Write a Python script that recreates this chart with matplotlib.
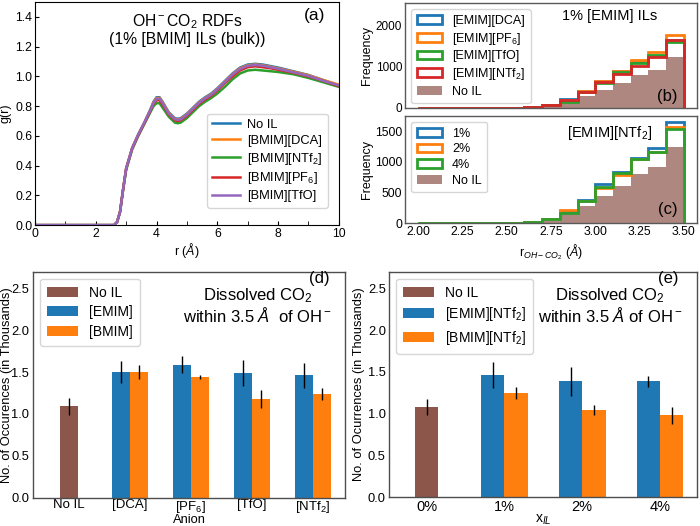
import matplotlib
matplotlib.use("Agg")
import matplotlib.pyplot as plt
from matplotlib.patches import Patch
import numpy as np

plt.rcParams['font.family'] = ['Liberation Sans', 'DejaVu Sans']
plt.rcParams['mathtext.fontset'] = 'custom'
plt.rcParams['mathtext.rm'] = 'Liberation Sans'
plt.rcParams['mathtext.it'] = 'Liberation Sans:italic'
plt.rcParams['mathtext.bf'] = 'Liberation Sans:bold'

C_BLUE = '#1f77b4'
C_ORANGE = '#ff7f0e'
C_GREEN = '#2ca02c'
C_RED = '#d62728'
C_PURPLE = '#9467bd'
C_BROWN = '#8c564b'

# ---- (a) RDF data
r = [0, 2.5, 2.6, 2.7, 2.8, 2.9, 3.0, 3.2, 3.4, 3.6, 3.8, 3.9, 4.0, 4.1, 4.2, 4.4, 4.6, 4.7,
     4.8, 5.0, 5.2, 5.4, 5.6, 5.8, 6.0, 6.25, 6.5, 6.75, 7.0, 7.25, 7.5, 7.75, 8.0, 8.5, 9.0,
     9.5, 10.0]
g_noil = [0, 0, 0, 0.02, 0.09, 0.24, 0.38, 0.52, 0.61, 0.69, 0.78, 0.83, 0.86, 0.86, 0.83, 0.76,
          0.72, 0.715, 0.72, 0.75, 0.79, 0.83, 0.86, 0.885, 0.92, 0.97, 1.02, 1.06, 1.08, 1.085,
          1.08, 1.07, 1.06, 1.035, 1.01, 0.975, 0.94]
g_dca = [0, 0, 0, 0.02, 0.09, 0.24, 0.38, 0.52, 0.61, 0.69, 0.775, 0.825, 0.855, 0.855, 0.825,
         0.755, 0.715, 0.71, 0.715, 0.745, 0.785, 0.825, 0.855, 0.88, 0.915, 0.965, 1.015, 1.055,
         1.075, 1.08, 1.075, 1.065, 1.055, 1.032, 1.008, 0.975, 0.945]
g_ntf2 = [0, 0, 0, 0.02, 0.09, 0.24, 0.37, 0.51, 0.60, 0.68, 0.76, 0.80, 0.82, 0.82, 0.79, 0.73,
          0.69, 0.685, 0.69, 0.72, 0.76, 0.80, 0.83, 0.855, 0.885, 0.93, 0.98, 1.02, 1.04, 1.045,
          1.04, 1.035, 1.03, 1.015, 0.99, 0.96, 0.93]
g_pf6 = [0, 0, 0, 0.02, 0.09, 0.24, 0.38, 0.515, 0.605, 0.685, 0.77, 0.815, 0.84, 0.84, 0.81,
         0.745, 0.705, 0.70, 0.705, 0.735, 0.775, 0.815, 0.845, 0.87, 0.905, 0.955, 1.0, 1.04,
         1.062, 1.068, 1.062, 1.055, 1.045, 1.025, 1.0, 0.97, 0.935]
g_tfo = [0, 0, 0, 0.02, 0.09, 0.24, 0.38, 0.52, 0.61, 0.69, 0.775, 0.82, 0.85, 0.85, 0.82, 0.75,
         0.712, 0.708, 0.712, 0.742, 0.782, 0.822, 0.852, 0.877, 0.912, 0.962, 1.012, 1.05,
         1.072, 1.077, 1.072, 1.062, 1.052, 1.028, 1.004, 0.97, 0.94]

# ---- (b), (c) histograms of r_OH-CO2
bin_edges = [2.0, 2.1, 2.2, 2.3, 2.4, 2.5, 2.6, 2.7, 2.8, 2.9, 3.0, 3.1, 3.2, 3.3, 3.4, 3.5]
h_noil = [0, 0, 0, 0, 2, 5, 15, 54, 151, 282, 445, 607, 797, 922, 1248]
h_emim_dca = [0, 0, 0, 1, 3, 8, 22, 80, 225, 415, 650, 890, 1125, 1270, 1660]
h_emim_pf6 = [0, 0, 0, 1, 3, 8, 25, 85, 205, 425, 670, 905, 1160, 1365, 1770]
h_emim_tfo = [0, 0, 0, 1, 2, 7, 20, 70, 150, 400, 600, 880, 1100, 1280, 1610]
h_emim_ntf2 = [0, 0, 0, 1, 3, 8, 22, 78, 195, 385, 635, 830, 1030, 1240, 1650]
h_1pct = [0, 0, 0, 1, 3, 8, 22, 72, 200, 380, 645, 840, 1069, 1231, 1655]
h_2pct = [0, 0, 0, 1, 3, 8, 22, 72, 210, 370, 575, 790, 1045, 1166, 1573]
h_4pct = [0, 0, 0, 1, 2, 7, 20, 68, 175, 362, 590, 822, 1050, 1160, 1530]

# ---- (d) bar chart by anion (thousands)
anions = ['No IL', '[DCA]', '[PF$_6$]', '[TfO]', '[NTf$_2$]']
d_noil, d_noil_err = 1.09, 0.10
d_emim = [1.50, 1.59, 1.49, 1.46]
d_emim_err = [0.135, 0.10, 0.15, 0.155]
d_bmim = [1.50, 1.44, 1.18, 1.24]
d_bmim_err = [0.085, 0.02, 0.105, 0.075]

# ---- (e) bar chart by concentration (thousands)
conc = ['0%', '1%', '2%', '4%']
e_noil, e_noil_err = 1.08, 0.10
e_emim = [1.46, 1.39, 1.39]
e_emim_err = [0.155, 0.175, 0.065]
e_bmim = [1.25, 1.04, 0.98]
e_bmim_err = [0.075, 0.06, 0.10]

fig = plt.figure(figsize=(7, 5.26), dpi=100)

# ---------------- (a)
ax = fig.add_axes([0.05, 0.572, 0.434, 0.424])
ax.plot(r, g_noil, color=C_BLUE, lw=1.8, label='No IL')
ax.plot(r, g_dca, color=C_ORANGE, lw=1.8, label='[BMIM][DCA]')
ax.plot(r, g_ntf2, color=C_GREEN, lw=1.8, label='[BMIM][NTf$_2$]')
ax.plot(r, g_pf6, color=C_RED, lw=1.8, label='[BMIM][PF$_6$]')
ax.plot(r, g_tfo, color=C_PURPLE, lw=1.8, label='[BMIM][TfO]')
ax.set_xlim(0, 10)
ax.set_ylim(0, 1.5)
ax.set_xticks([0, 2, 4, 6, 8, 10])
ax.set_xticks([1, 3, 5, 7, 9], minor=True)
ax.set_yticks([0, 0.2, 0.4, 0.6, 0.8, 1.0, 1.2, 1.4])
ax.tick_params(which='both', direction='in', length=3, labelsize=8.8, pad=2)
ax.set_xlabel('r ($\\AA$)', fontsize=9)
ax.xaxis.set_label_coords(0.5, -0.07)
ax.set_ylabel('g(r)', fontsize=9)
ax.yaxis.set_label_coords(-0.076, 0.5)
ax.legend(loc='lower right', fontsize=9.3, handlelength=2.1, bbox_to_anchor=(0.985, 0.05),
          borderpad=0.4, labelspacing=0.3, handletextpad=0.6)
ax.text(0.5, 0.875, 'OH$^-$CO$_2$ RDFs\n(1% [BMIM] ILs (bulk))', transform=ax.transAxes,
        ha='center', va='center', fontsize=11.3, linespacing=1.1)
ax.text(0.92, 0.94, '(a)', transform=ax.transAxes, ha='center', va='center', fontsize=12.5)


def hist_handles(colors, labels):
    hs = [Patch(facecolor='none', edgecolor=c, lw=2) for c in colors]
    hs.append(Patch(facecolor=C_BROWN, alpha=0.7, edgecolor='none'))
    return hs, labels + ['No IL']


# ---------------- (b)
axb = fig.add_axes([0.5786, 0.7947, 0.417, 0.1996])
cols_b = [C_BLUE, C_ORANGE, C_GREEN, C_RED]
labs_b = ['[EMIM][DCA]', '[EMIM][PF$_6$]', '[EMIM][TfO]', '[EMIM][NTf$_2$]']
for h, c in zip([h_emim_dca, h_emim_pf6, h_emim_tfo, h_emim_ntf2], cols_b):
    axb.stairs(h, bin_edges, color=c, lw=2)
axb.stairs(h_noil, bin_edges, fill=True, color=C_BROWN, alpha=0.7, lw=0, zorder=0.5)
axb.set_xlim(1.925, 3.575)
axb.set_ylim(0, 2560)
axb.set_yticks([0, 1000, 2000])
axb.set_xticks([2.0, 2.25, 2.5, 2.75, 3.0, 3.25, 3.5])
axb.tick_params(axis='x', labelbottom=False)
axb.tick_params(length=0, labelsize=8.5, pad=2)
axb.set_ylabel('Frequency', fontsize=9)
axb.yaxis.set_label_coords(-0.11, 0.5)
hs, ls = hist_handles(cols_b, labs_b)
axb.legend(hs, ls, loc='upper left', fontsize=9, handlelength=2.0, labelspacing=0.3,
           borderpad=0.45, bbox_to_anchor=(0.0, 1.0))
axb.text(0.70, 0.88, '1% [EMIM] ILs', transform=axb.transAxes, ha='center', va='center',
         fontsize=10.5)
axb.text(0.90, 0.11, '(b)', transform=axb.transAxes, ha='center', va='center', fontsize=12)

# ---------------- (c)
axc = fig.add_axes([0.5786, 0.5755, 0.417, 0.2045])
cols_c = [C_BLUE, C_ORANGE, C_GREEN]
labs_c = ['1%', '2%', '4%']
for h, c in zip([h_1pct, h_2pct, h_4pct], cols_c):
    axc.stairs(h, bin_edges, color=c, lw=2)
axc.stairs(h_noil, bin_edges, fill=True, color=C_BROWN, alpha=0.7, lw=0, zorder=0.5)
axc.set_xlim(1.925, 3.575)
axc.set_ylim(0, 1750)
axc.set_yticks([0, 500, 1000, 1500])
axc.set_xticks([2.0, 2.25, 2.5, 2.75, 3.0, 3.25, 3.5])
axc.set_xticklabels(['2.00', '2.25', '2.50', '2.75', '3.00', '3.25', '3.50'])
axc.tick_params(length=0, labelsize=8.8, pad=2)
axc.set_ylabel('Frequency', fontsize=9)
axc.yaxis.set_label_coords(-0.11, 0.5)
axc.set_xlabel('r$_{OH-CO_2}$ ($\\AA$)', fontsize=9, labelpad=3)
hs, ls = hist_handles(cols_c, labs_c)
axc.legend(hs, ls, loc='upper left', fontsize=9, handlelength=2.0, labelspacing=0.3,
           borderpad=0.45)
axc.text(0.70, 0.84, '[EMIM][NTf$_2$]', transform=axc.transAxes, ha='center', va='center',
         fontsize=10.5)
axc.text(0.90, 0.13, '(c)', transform=axc.transAxes, ha='center', va='center', fontsize=12)

for a in (axb, axc):
    for s in a.spines.values():
        s.set_color('0.35')
        s.set_linewidth(1.0)

# ---------------- (d)
axd = fig.add_axes([0.0476, 0.0538, 0.445, 0.4297])
w = 0.3
xd = np.arange(len(anions))
err_kw = dict(ecolor='black', elinewidth=1, capsize=0)
axd.bar(xd[0], d_noil, w, yerr=d_noil_err, color=C_BROWN, label='No IL', error_kw=err_kw)
axd.bar(xd[1:] - w / 2, d_emim, w, yerr=d_emim_err, color=C_BLUE, label='[EMIM]',
        error_kw=err_kw)
axd.bar(xd[1:] + w / 2, d_bmim, w, yerr=d_bmim_err, color=C_ORANGE, label='[BMIM]',
        error_kw=err_kw)
axd.set_xticks(xd)
axd.set_xticklabels(anions, fontsize=9.5)
axd.set_xlim(-0.58, 4.52)
axd.set_ylim(0, 2.7)
axd.set_yticks([0, 0.5, 1.0, 1.5, 2.0, 2.5])
axd.tick_params(length=0, pad=3)
axd.tick_params(axis='x', pad=1)
axd.tick_params(axis='y', labelsize=9.3)
axd.set_ylabel('No. of Occurences (in Thousands)', fontsize=9.3)
axd.yaxis.set_label_coords(-0.066, 0.5)
axd.set_xlabel('Anion', fontsize=9.3)
axd.xaxis.set_label_coords(0.5, -0.071)
axd.legend(loc='upper left', fontsize=10, handlelength=2.2, borderpad=0.5, labelspacing=0.4)
axd.text(0.72, 0.85, 'Dissolved CO$_2$\nwithin 3.5 $\\AA$  of OH$^-$', transform=axd.transAxes,
         ha='center', va='center', fontsize=12, linespacing=1.05)
axd.text(0.918, 0.97, '(d)', transform=axd.transAxes, ha='center', va='center', fontsize=12)

# ---------------- (e)
axe = fig.add_axes([0.5562, 0.0545, 0.44, 0.429])
xe = np.arange(len(conc))
axe.bar(xe[0], e_noil, w, yerr=e_noil_err, color=C_BROWN, label='No IL', error_kw=err_kw)
axe.bar(xe[1:] - w / 2, e_emim, w, yerr=e_emim_err, color=C_BLUE, label='[EMIM][NTf$_2$]',
        error_kw=err_kw)
axe.bar(xe[1:] + w / 2, e_bmim, w, yerr=e_bmim_err, color=C_ORANGE, label='[BMIM][NTf$_2$]',
        error_kw=err_kw)
axe.set_xticks(xe)
axe.set_xticklabels(conc, fontsize=10.5)
axe.set_xlim(-0.48, 3.48)
axe.set_ylim(0, 2.7)
axe.set_yticks([0, 0.5, 1.0, 1.5, 2.0, 2.5])
axe.tick_params(length=0, pad=2.5)
axe.tick_params(axis='x', pad=2)
axe.tick_params(axis='y', labelsize=9.3)
axe.set_ylabel('No. of Ocurrences (in Thousands)', fontsize=9.3)
axe.yaxis.set_label_coords(-0.08, 0.5)
axe.set_xlabel('x$_{IL}$', fontsize=10)
axe.xaxis.set_label_coords(0.5, -0.066)
axe.legend(loc='upper left', fontsize=10, handlelength=2.2, borderpad=0.5, labelspacing=0.4)
axe.text(0.716, 0.85, 'Dissolved CO$_2$\nwithin 3.5 $\\AA$ of OH$^-$', transform=axe.transAxes,
         ha='center', va='center', fontsize=12, linespacing=1.05)
axe.text(0.905, 0.97, '(e)', transform=axe.transAxes, ha='center', va='center', fontsize=12)

for a in (axd, axe):
    for s in a.spines.values():
        s.set_color('0.3')
        s.set_linewidth(1.0)

fig.savefig('out.png', dpi=100)
